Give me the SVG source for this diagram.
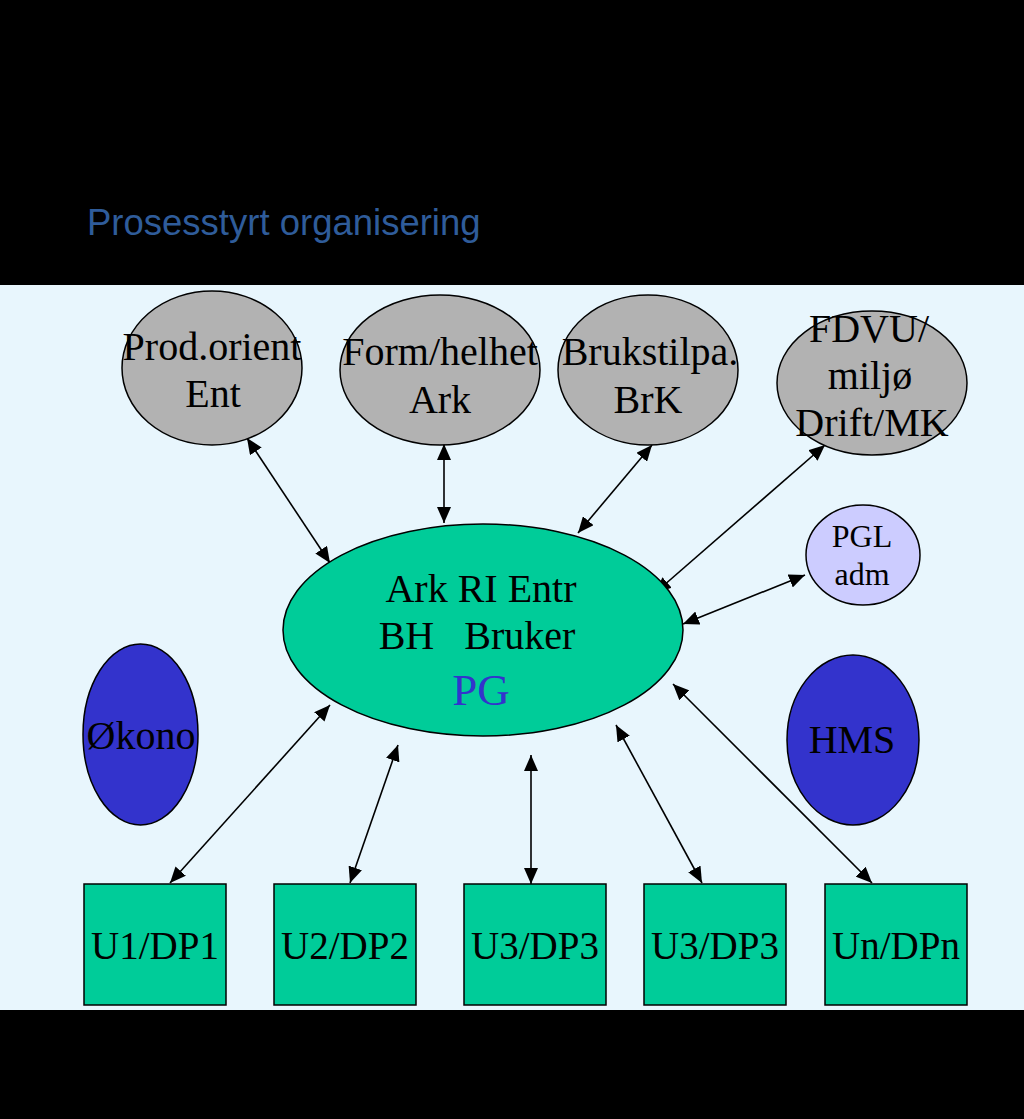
<svg xmlns="http://www.w3.org/2000/svg" width="1024" height="1119" viewBox="0 0 1024 1119">
<defs>
<style>
.t{font-family:"Liberation Serif","Times New Roman",serif;font-size:40px;fill:#000;text-anchor:middle}
.gray{fill:#B2B2B2;stroke:#000;stroke-width:1.5}
.green{fill:#00CC99;stroke:#000;stroke-width:1.5}
.blue{fill:#3333CC;stroke:#000;stroke-width:1.5}
.lav{fill:#CCCCFF;stroke:#000;stroke-width:1.5}
.c{stroke:#000;stroke-width:1.6;fill:none;marker-start:url(#ah);marker-end:url(#ah)}
</style>
<marker id="ah" markerUnits="userSpaceOnUse" markerWidth="16" markerHeight="14" refX="16" refY="7" orient="auto-start-reverse">
<path d="M0,0 L16,7 L0,14 z" fill="#000"/>
</marker>
</defs>
<rect x="0" y="0" width="1024" height="1119" fill="#000"/>
<text x="87" y="235" font-family="Liberation Sans, Arial, sans-serif" font-size="36.5" fill="#2F5C9A">Prosesstyrt organisering</text>
<rect x="0" y="285" width="1024" height="725" fill="#E8F6FD"/>

<g id="connectors">
<line class="c" x1="247" y1="438" x2="330" y2="563"/>
<line class="c" x1="444" y1="444" x2="444" y2="523"/>
<line class="c" x1="652" y1="445" x2="578" y2="533"/>
<line class="c" x1="825" y1="445" x2="655" y2="593"/>
<line class="c" x1="805" y1="575" x2="683" y2="624"/>
<line class="c" x1="330" y1="705" x2="170" y2="883"/>
<line class="c" x1="398" y1="745" x2="350" y2="883"/>
<line class="c" x1="531" y1="755" x2="531" y2="884"/>
<line class="c" x1="616" y1="725" x2="702" y2="883"/>
<line class="c" x1="673" y1="684" x2="872" y2="883"/>
</g>

<g id="prod">
<ellipse class="gray" cx="212" cy="368" rx="90" ry="77"/>
<text class="t" x="212" y="360">Prod.orient</text>
<text class="t" x="213" y="407">Ent</text>
</g>
<g id="form">
<ellipse class="gray" cx="440" cy="370" rx="100" ry="75"/>
<text class="t" x="440" y="365">Form/helhet</text>
<text class="t" x="440" y="413">Ark</text>
</g>
<g id="bruk">
<ellipse class="gray" cx="648" cy="370" rx="90" ry="75"/>
<text class="t" x="650" y="365">Brukstilpa.</text>
<text class="t" x="648" y="413">BrK</text>
</g>
<g id="fdvu">
<ellipse class="gray" cx="872" cy="383" rx="95" ry="72"/>
<text class="t" x="869" y="342">FDVU/</text>
<text class="t" x="870" y="389">miljø</text>
<text class="t" x="872" y="436">Drift/MK</text>
</g>
<g id="pgl">
<ellipse class="lav" cx="863" cy="555" rx="57" ry="50"/>
<text class="t" x="862" y="547" style="font-size:32px">PGL</text>
<text class="t" x="862" y="585" style="font-size:32px">adm</text>
</g>
<g id="pg">
<ellipse class="green" cx="483" cy="630" rx="200" ry="106"/>
<text class="t" x="481" y="602">Ark RI Entr</text>
<text class="t" x="477" y="649" xml:space="preserve">BH   Bruker</text>
<text class="t" x="481" y="705" style="font-size:45px;fill:#3333CC">PG</text>
</g>
<g id="okono">
<ellipse class="blue" cx="140.5" cy="734.5" rx="57.5" ry="90.5"/>
<text class="t" x="141" y="749">Økono</text>
</g>
<g id="hms">
<ellipse class="blue" cx="853" cy="740" rx="66" ry="85"/>
<text class="t" x="852" y="753">HMS</text>
</g>
<g id="u1">
<rect class="green" x="84" y="884" width="142" height="121"/>
<text class="t" x="155" y="959" style="font-size:39px">U1/DP1</text>
</g>
<g id="u2">
<rect class="green" x="274" y="884" width="142" height="121"/>
<text class="t" x="345" y="959" style="font-size:39px">U2/DP2</text>
</g>
<g id="u3">
<rect class="green" x="464" y="884" width="142" height="121"/>
<text class="t" x="535" y="959" style="font-size:39px">U3/DP3</text>
</g>
<g id="u3b">
<rect class="green" x="644" y="884" width="142" height="121"/>
<text class="t" x="715" y="959" style="font-size:39px">U3/DP3</text>
</g>
<g id="un">
<rect class="green" x="825" y="884" width="142" height="121"/>
<text class="t" x="896" y="959" style="font-size:39px">Un/DPn</text>
</g>
</svg>
